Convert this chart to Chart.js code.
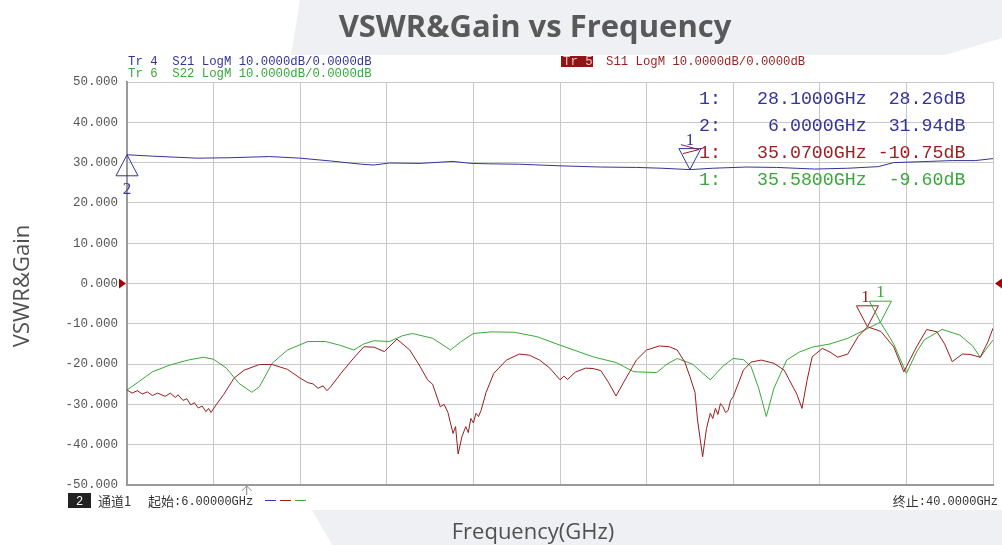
<!DOCTYPE html>
<html>
<head>
<meta charset="utf-8">
<title>VSWR&amp;Gain vs Frequency</title>
<script src="https://cdn.jsdelivr.net/npm/chart.js@4.4.1/dist/chart.umd.min.js"></script>
<style>
  html, body { margin: 0; padding: 0; background: #fff; }
  #wrap { position: relative; width: 1002px; height: 545px; }
</style>
</head>
<body>
<div id="wrap"><canvas id="vnaChart"></canvas></div>
<script>
/* global Chart */
// frequency span of the analyser sweep (GHz)
const freqStart = 6;
const freqStop = 40;
const xGridFreqs = [6, 9.4, 12.8, 16.2, 19.6, 23, 26.4, 29.8, 33.2, 36.6, 40];

// Tr 4 : S21 (gain)
const s21Freq = [6, 7, 8.75, 10, 11.6, 12.8, 14, 15.2, 15.7, 16.3, 17.5, 18.8, 19.5, 20.2, 21.4, 23,
  24.6, 26, 27, 28.1, 29, 30.3, 31.5, 33, 34.3, 35.5, 36.1, 37.5, 38.4, 39.3, 40];
const s21Gain = [31.94, 31.6, 31.1, 31.2, 31.5, 31.1, 30.4, 29.6, 29.4, 29.9, 29.8, 30.3, 29.8, 29.7, 29.6, 29.2,
  28.9, 28.8, 28.6, 28.26, 28.6, 28.9, 28.8, 28.4, 28.6, 29.0, 30.0, 30.3, 30.5, 30.5, 31.0];

// Tr 5 : S11
const s11Freq = [6, 6.2, 6.4, 6.6, 6.8, 7.0, 7.2, 7.5, 7.7, 7.9, 8.0, 8.2, 8.35, 8.5, 8.65, 8.8, 8.95, 9.1,
  9.2, 9.3, 9.5, 9.8, 10.2, 10.6, 11.2, 11.7, 12.3, 12.8, 13.1, 13.3, 13.5, 13.7, 13.85, 14.0, 14.4,
  14.9, 15.3, 15.7, 16.1, 16.6, 17.1, 17.5, 17.8, 18.0, 18.3, 18.45, 18.6, 18.8, 18.9, 19.0, 19.15,
  19.3, 19.4, 19.5, 19.6, 19.7, 19.8, 19.9, 20.1, 20.4, 20.9, 21.4, 21.8, 22.2, 22.6, 23.0, 23.15,
  23.3, 23.6, 24.0, 24.3, 24.6, 24.9, 25.2, 25.5, 26.0, 26.4, 26.9, 27.3, 27.6, 27.9, 28.1, 28.3,
  28.4, 28.6, 28.75, 28.9, 29.0, 29.1, 29.2, 29.3, 29.4, 29.5, 29.6, 29.7, 29.8, 30.2, 30.5, 30.9,
  31.4, 31.8, 32.0, 32.3, 32.5, 32.7, 32.9, 33.3, 33.6, 33.9, 34.3, 34.7, 35.07, 35.6, 36.1, 36.5,
  37.0, 37.4, 37.8, 38.1, 38.4, 38.8, 39.1, 39.5, 39.8, 40];
const s11Loss = [-26.4, -27.2, -26.6, -27.4, -26.9, -27.8, -27.2, -28.0, -27.2, -28.3, -27.6, -29.0, -28.6, -30.1, -29.6, -30.9, -30.4, -31.8,
  -31.0, -32.0, -30.1, -27.5, -23.5, -21.5, -20.1, -20.1, -21.3, -23.5, -24.6, -24.9, -26.0, -25.4, -26.6, -25.6, -22.3,
  -18.5, -15.7, -15.8, -16.9, -13.8, -16.5, -20.5, -23.9, -25.0, -30.6, -30.0, -32.0, -37.2, -35.5, -42.3, -38.0,
  -35.5, -37.0, -33.5, -34.6, -32.2, -33.0, -31.5, -27.0, -22.3, -19.0, -17.5, -17.8, -19.0, -21.0, -23.9, -23.0,
  -23.8, -22.0, -21.0, -21.1, -21.6, -24.5, -27.9, -24.5, -19.0, -16.5, -15.5, -15.7, -16.5, -19.5, -23.1, -27.0,
  -33.9, -43.0, -36.0, -32.2, -33.5, -31.0, -32.5, -29.8, -30.6, -32.0, -31.5, -29.0, -28.1, -21.5, -19.5, -19.0,
  -19.8, -21.5, -23.9, -27.5, -31.0, -24.0, -18.2, -16.1, -17.0, -18.3, -17.5, -13.2, -10.75, -11.9, -15.7, -21.9,
  -15.7, -11.4, -12.0, -15.0, -19.4, -17.5, -17.6, -18.3, -14.5, -11.1];

// Tr 6 : S22
const s22Freq = [6, 6.5, 7.0, 7.7, 8.4, 9.0, 9.4, 9.9, 10.4, 10.9, 11.2, 11.7, 12.3, 13.1, 13.8, 14.4,
  14.9, 15.3, 15.7, 16.3, 16.8, 17.2, 18.0, 18.7, 19.1, 19.6, 20.3, 21.2, 22.1, 23.0, 24.3, 25.2,
  25.9, 26.8, 27.2, 27.6, 28.2, 28.9, 29.4, 29.8, 30.2, 30.5, 30.8, 31.1, 31.4, 31.9, 32.4, 32.9,
  33.6, 34.3, 35.1, 35.58, 36.1, 36.6, 37.0, 37.3, 38.0, 38.7, 39.2, 39.5, 40];
const s22Loss = [-26.4, -24.2, -21.9, -20.2, -19.0, -18.3, -18.8, -21.0, -24.8, -27.0, -25.6, -19.8, -16.5, -14.4, -14.4, -15.4,
  -16.5, -15.0, -14.2, -14.4, -13.0, -12.4, -13.6, -16.5, -14.5, -12.4, -12.0, -12.1, -13.2, -15.3, -18.2, -19.6,
  -21.9, -22.1, -20.0, -18.6, -20.0, -23.9, -20.5, -18.6, -18.9, -20.6, -26.0, -33.0, -26.0, -19.0, -17.0, -15.8,
  -15.0, -13.6, -11.1, -9.6, -15.0, -22.3, -17.0, -14.0, -11.4, -12.8, -15.5, -18.3, -14.0];

// marker table
const markerTrace = ["S21", "S21", "S11", "S22"];
const markerLabel = ["1", "2", "1", "1"];
const markerFreq = [28.1, 6.0, 35.07, 35.58];
const markerValue = [28.26, 31.94, -10.75, -9.60];

const traceColor = { S21: "#34349a", S11: "#9a1e1e", S22: "#3aa83a" };
const monoFont = "'Liberation Mono', 'Noto Sans CJK SC', monospace";
const cjkFont = "13px 'Noto Sans CJK SC', sans-serif";

function toPoints(xs, ys) {
  return xs.map((x, i) => ({ x: x, y: ys[i] }));
}

function tri(ctx, pts, color, fill) {
  ctx.beginPath();
  ctx.moveTo(pts[0][0], pts[0][1]);
  for (let i = 1; i < pts.length; i++) ctx.lineTo(pts[i][0], pts[i][1]);
  ctx.closePath();
  if (fill) {
    ctx.fillStyle = color;
    ctx.fill();
  } else {
    ctx.strokeStyle = color;
    ctx.lineWidth = 1;
    ctx.stroke();
  }
}

// CJK label followed by mono latin text, left aligned at x
function mixedText(ctx, cjk, latin, x, y) {
  ctx.textAlign = "left";
  ctx.font = cjkFont;
  ctx.fillText(cjk, x, y + 1);
  const w = ctx.measureText(cjk).width;
  ctx.font = "12px " + monoFont;
  ctx.fillText(latin, x + w, y);
  return w + ctx.measureText(latin).width;
}

const backdrop = {
  id: "backdrop",
  beforeDraw(chart) {
    const ctx = chart.ctx;
    ctx.save();
    ctx.fillStyle = "#ffffff";
    ctx.fillRect(0, 0, chart.width, chart.height);
    tri(ctx, [[300, 0], [1002, 0], [1002, 38], [945, 55], [291, 55]], "#eef0f4", true);
    tri(ctx, [[312, 510], [1002, 510], [1002, 545], [332, 545]], "#eef0f4", true);
    ctx.restore();
  },
};

const annotations = {
  id: "annotations",
  afterDatasetsDraw(chart) {
    const ctx = chart.ctx;
    const xs = chart.scales.x;
    const ys = chart.scales.y;
    ctx.save();

    // marker triangles
    markerTrace.forEach((tr, i) => {
      const px = xs.getPixelForValue(markerFreq[i]);
      const py = ys.getPixelForValue(markerValue[i]);
      const color = traceColor[tr];
      ctx.fillStyle = color;
      ctx.font = "17px 'Liberation Serif', serif";
      ctx.textAlign = "center";
      if (markerLabel[i] === "2") {
        tri(ctx, [[px, py], [px - 11, py + 21], [px + 11, py + 21]], color, false);
        ctx.fillText(markerLabel[i], px, py + 39);
      } else {
        tri(ctx, [[px, py], [px - 11, py - 21], [px + 11, py - 21]], color, false);
        ctx.fillText(markerLabel[i], px - (tr === "S11" ? 2 : 0), py - 25);
      }
    });
    // active marker pointer beside S21 marker 1
    const ax = xs.getPixelForValue(markerFreq[0]);
    const ay = ys.getPixelForValue(markerValue[0]);
    ctx.beginPath();
    ctx.moveTo(ax - 9, ay - 25);
    ctx.lineTo(ax + 9, ay - 20);
    ctx.lineTo(ax - 7, ay - 16);
    ctx.strokeStyle = traceColor.S11;
    ctx.stroke();

    // reference level pointers (0 dB)
    const y0 = ys.getPixelForValue(0);
    const l = chart.chartArea.left;
    const r = chart.chartArea.right;
    tri(ctx, [[l - 8, y0 - 5], [l - 1, y0], [l - 8, y0 + 5]], "#a80000", true);
    tri(ctx, [[r + 9, y0 - 5], [r + 2, y0], [r + 9, y0 + 5]], "#a80000", true);

    // sweep arrow under axis
    const sx = xs.getPixelForValue(10.7);
    const b = chart.chartArea.bottom;
    ctx.strokeStyle = "#8a8a8a";
    ctx.beginPath();
    ctx.moveTo(sx, b + 1);
    ctx.lineTo(sx, b + 10);
    ctx.moveTo(sx - 5, b + 6);
    ctx.lineTo(sx, b + 1);
    ctx.lineTo(sx + 5, b + 6);
    ctx.stroke();

    // trace headers
    ctx.textAlign = "left";
    ctx.font = "12.3px " + monoFont;
    ctx.fillStyle = traceColor.S21;
    ctx.fillText("Tr 4  S21 LogM 10.0000dB/0.0000dB", 128, 65);
    ctx.fillStyle = traceColor.S22;
    ctx.fillText("Tr 6  S22 LogM 10.0000dB/0.0000dB", 128, 77);
    ctx.fillStyle = "#8e1515";
    ctx.fillRect(561, 56, 32, 11);
    ctx.fillStyle = "#e8c0c0";
    ctx.fillText("Tr 5", 563, 65);
    ctx.fillStyle = traceColor.S11;
    ctx.fillText("S11 LogM 10.0000dB/0.0000dB", 606, 65);

    // marker readout table
    ctx.font = "18.3px " + monoFont;
    markerTrace.forEach((tr, i) => {
      const yb = 104 + i * 27;
      const f = (markerFreq[i].toFixed(4) + "GHz").padStart(10, " ");
      const v = markerValue[i].toFixed(2).padStart(6, " ");
      ctx.fillStyle = traceColor[tr];
      ctx.textAlign = "right";
      ctx.fillText(markerLabel[i] + ":", 721, yb);
      ctx.textAlign = "left";
      ctx.fillText(f + " " + v + "dB", 757, yb);
    });

    // channel footer
    ctx.font = "12px " + monoFont;
    ctx.fillStyle = "#222";
    ctx.fillRect(68, 493, 23, 15);
    ctx.fillStyle = "#fff";
    ctx.textAlign = "center";
    ctx.fillText("2", 79.5, 505);
    ctx.fillStyle = "#333";
    ctx.textAlign = "left";
    ctx.font = cjkFont;
    ctx.fillText("通道1", 98, 506);
    mixedText(ctx, "起始", ":6.00000GHz", 148, 505);
    ctx.font = "12px " + monoFont;
    const stopW = ctx.measureText(":40.0000GHz").width;
    ctx.font = cjkFont;
    const stopC = ctx.measureText("终止").width;
    mixedText(ctx, "终止", ":40.0000GHz", 998 - stopW - stopC, 505);
    ctx.lineWidth = 1;
    [["S21", 265], ["S11", 280], ["S22", 295]].forEach(([tr, x]) => {
      ctx.strokeStyle = traceColor[tr];
      ctx.beginPath();
      ctx.moveTo(x, 500.5);
      ctx.lineTo(x + 11, 500.5);
      ctx.stroke();
    });

    // titles
    ctx.fillStyle = "#595959";
    ctx.textAlign = "center";
    ctx.font = "bold 31px 'Open Sans', sans-serif";
    ctx.fillText("VSWR&Gain vs Frequency", 535, 37);
    ctx.font = "22px 'Open Sans', sans-serif";
    ctx.fillStyle = "#505050";
    ctx.fillText("Frequency(GHz)", 533, 539);
    ctx.translate(29, 286);
    ctx.rotate(-Math.PI / 2);
    ctx.fillText("VSWR&Gain", 0, 0);
    ctx.restore();
  },
};

new Chart(document.getElementById("vnaChart").getContext("2d"), {
  type: "line",
  data: {
    datasets: [
      {
        label: "S21",
        data: toPoints(s21Freq, s21Gain),
        borderColor: traceColor.S21,
        borderWidth: 1,
        pointRadius: 0,
      },
      {
        label: "S11",
        data: toPoints(s11Freq, s11Loss),
        borderColor: traceColor.S11,
        borderWidth: 1,
        pointRadius: 0,
      },
      {
        label: "S22",
        data: toPoints(s22Freq, s22Loss),
        borderColor: traceColor.S22,
        borderWidth: 1,
        pointRadius: 0,
      },
    ],
  },
  options: {
    responsive: true,
    maintainAspectRatio: false,
    animation: false,
    layout: { padding: { left: 0, top: 82, right: 9, bottom: 60 } },
    plugins: {
      legend: { display: false },
      title: { display: false },
      tooltip: { enabled: false },
    },
    scales: {
      x: {
        type: "linear",
        min: freqStart,
        max: freqStop,
        afterBuildTicks: (scale) => {
          scale.ticks = xGridFreqs.map((v) => ({ value: v }));
        },
        afterFit: (scale) => {
          scale.height = 0;
        },
        ticks: { display: false },
        grid: { color: "#c8c8c8", drawTicks: false },
        border: { color: "#9a9a9a", width: 2 },
      },
      y: {
        min: -50,
        max: 50,
        afterFit: (scale) => {
          scale.width = 127;
        },
        ticks: {
          stepSize: 10,
          padding: 9,
          color: "#555",
          font: { family: "'Liberation Mono', monospace", size: 12.5 },
          callback: (v) => v.toFixed(3),
        },
        grid: { color: "#c8c8c8", drawTicks: false },
        border: { color: "#9a9a9a", width: 2 },
      },
    },
  },
  plugins: [backdrop, annotations],
});
</script>
</body>
</html>
